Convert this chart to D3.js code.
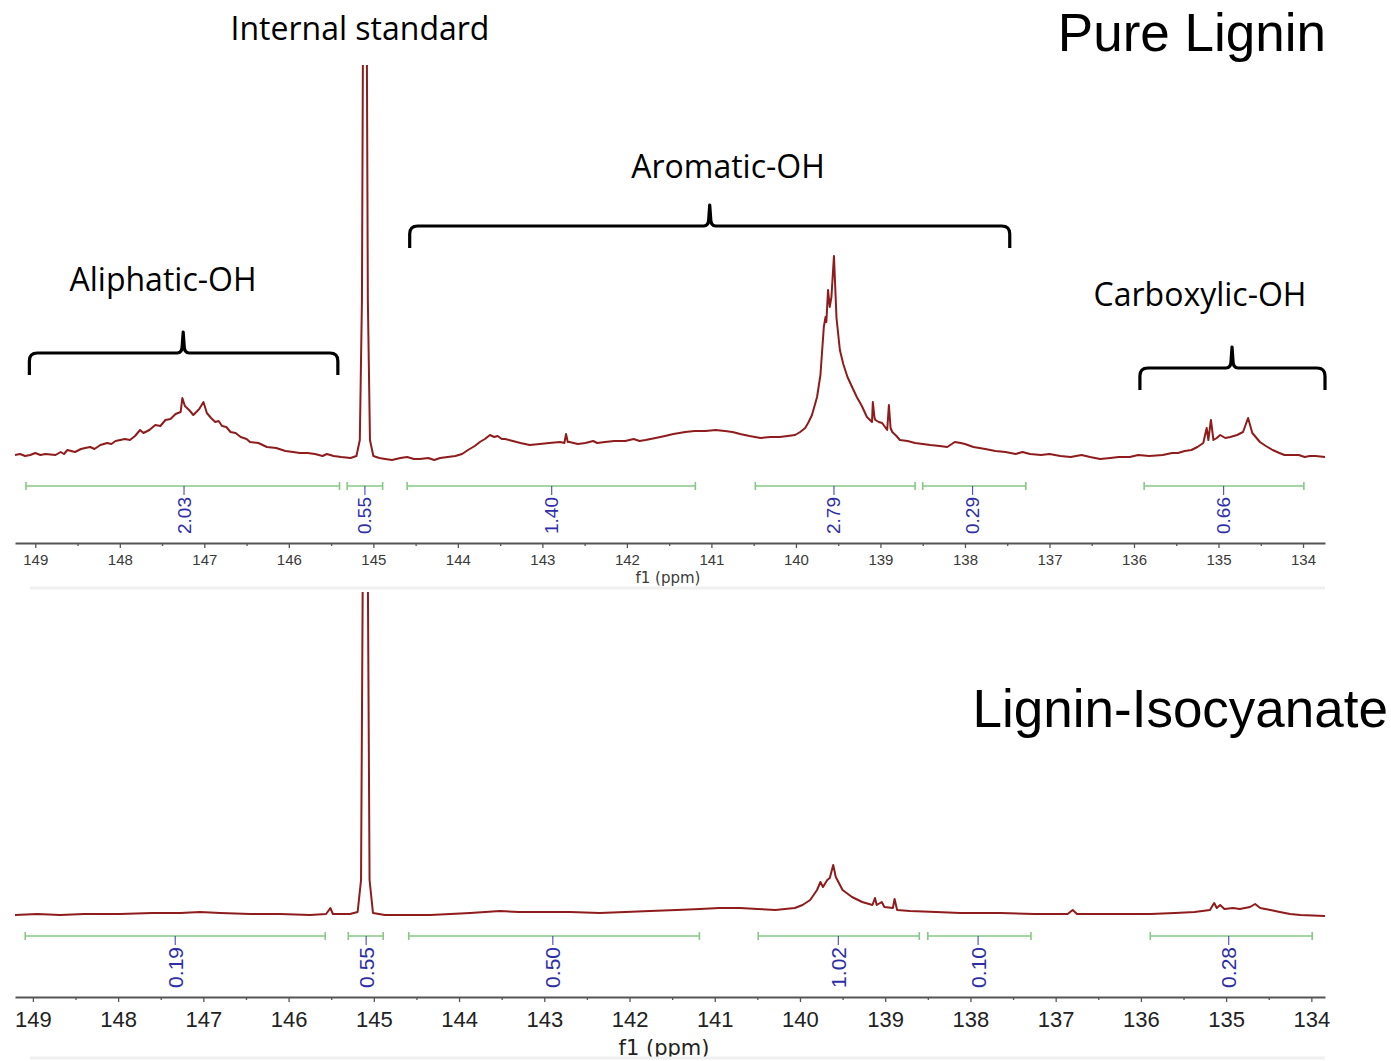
<!DOCTYPE html>
<html>
<head>
<meta charset="utf-8">
<script src="https://cdn.jsdelivr.net/npm/d3@7"></script>
<style>
  html, body { margin: 0; padding: 0; background: #fff; }
  svg { display: block; }
</style>
</head>
<body>
<svg id="chart" width="1391" height="1061"></svg>
<script>
// ---------------- DATA ----------------
// Pure Lignin spectrum: [ppm, relative intensity]
const pureLigninSpectrum = [
  [149.24,2.5],[149.18,3],[149.12,2],[149.06,2.5],[149.00,3.5],[148.94,2.5],[148.88,3],[148.76,2.5],
  [148.70,4],[148.66,3],[148.62,5],[148.53,4],[148.46,5.5],[148.41,6],[148.35,6.5],[148.30,5.5],
  [148.23,7.5],[148.15,8.5],[148.10,8],[148.05,9.5],[147.94,10.5],[147.88,10],[147.82,12],
  [147.76,15],[147.72,13.5],[147.65,15],[147.58,17.5],[147.52,17],[147.46,20],[147.40,20.5],
  [147.34,23],[147.28,24],[147.26,31],[147.23,27],[147.18,25],[147.13,22.5],[147.06,25.5],
  [147.01,29],[146.97,23.5],[146.92,21],[146.87,19],[146.83,19.5],[146.79,17],[146.74,16.5],
  [146.69,14],[146.63,13.5],[146.57,11.5],[146.50,10.5],[146.46,9],[146.36,8.5],[146.26,6.5],
  [146.15,6],[146.04,4.5],[145.95,4],[145.87,3.5],[145.78,3.5],[145.69,3],[145.60,2],[145.55,3],
  [145.47,2],[145.38,1.5],[145.27,1],[145.20,2],[145.16,10],[145.135,80],[145.118,260],
  [145.082,260],[145.065,80],[145.04,10],[145.00,2],[144.93,1],[144.86,0.5],[144.78,0],
  [144.68,1],[144.60,1.5],[144.52,0.5],[144.45,0.5],[144.35,1],[144.28,0],[144.21,1],[144.12,1.5],
  [144.03,2],[143.95,3],[143.88,5],[143.80,7],[143.74,9],[143.68,10.5],[143.62,12.5],[143.57,11.5],
  [143.53,12],[143.48,10.5],[143.44,10.5],[143.35,9.5],[143.26,8.5],[143.15,7.5],[143.03,8],
  [142.92,8.5],[142.79,9],[142.74,8.5],[142.72,13],[142.70,9],[142.68,9],[142.58,8],[142.49,8.5],
  [142.40,9.5],[142.35,8.5],[142.26,9],[142.15,9.5],[142.02,9.5],[141.92,10.5],[141.85,9.5],
  [141.78,10],[141.66,11],[141.55,12],[141.45,13],[141.31,14],[141.20,14.5],[141.07,14.5],
  [140.95,15],[140.84,14.5],[140.75,14],[140.66,13],[140.55,12],[140.42,11],[140.30,11.5],
  [140.19,11.5],[140.10,12],[140.01,12.5],[139.95,14],[139.89,16],[139.85,19],[139.81,22.5],
  [139.75,31.5],[139.71,42.5],[139.67,66.5],[139.65,71.5],[139.64,69],[139.62,85],[139.60,76.5],
  [139.58,81.5],[139.55,102],[139.52,71],[139.48,55],[139.44,48],[139.39,41.5],[139.33,36],
  [139.28,31.5],[139.22,27],[139.16,21.5],[139.10,19],[139.09,29],[139.07,21],[139.06,20],
  [139.02,19],[138.98,18.5],[138.92,15],[138.90,27.5],[138.88,16],[138.86,14],[138.81,12],
  [138.77,10],[138.68,9.5],[138.59,8.5],[138.50,8],[138.41,7.5],[138.30,7],[138.21,6.5],
  [138.12,9],[138.05,8.5],[138.00,8],[137.90,6.5],[137.76,5.5],[137.64,4.5],[137.52,4],
  [137.40,3],[137.32,4],[137.23,3],[137.10,2.5],[137.00,3],[136.87,2],[136.75,1.5],[136.62,2.5],
  [136.52,1.5],[136.40,0.5],[136.28,1],[136.18,1.5],[136.05,1.5],[135.95,2.5],[135.82,2],
  [135.66,2.5],[135.55,3.5],[135.48,3.5],[135.40,4.5],[135.32,5],[135.25,6.5],[135.18,8.5],
  [135.14,16],[135.12,10],[135.09,20],[135.06,10],[135.02,11],[134.98,12.5],[134.92,11],
  [134.86,11.5],[134.78,12.5],[134.71,14],[134.65,21],[134.60,13.5],[134.55,11],[134.51,9],
  [134.44,7],[134.36,5],[134.28,3.5],[134.22,2.5],[134.15,2.5],[134.05,2.5],[133.98,1.5],
  [133.92,2],[133.85,2],[133.74,1.5]
];

// Lignin-Isocyanate spectrum: [ppm, relative intensity]
const ligninIsocyanateSpectrum = [
  [149.21,0.5],[148.95,1],[148.68,0.5],[148.40,1],[147.98,1],[147.60,1.5],[147.27,1.5],[147.04,2],
  [146.80,1.5],[146.45,1],[146.10,1],[145.75,0.5],[145.56,1],[145.51,4],[145.48,1],[145.28,1],
  [145.19,2],[145.15,18],[145.118,260],[145.082,260],[145.05,18],[145.01,1.5],[144.87,0.5],
  [144.60,0.5],[144.34,0.5],[144.10,1],[143.87,1.5],[143.52,2.5],[143.30,2],[143.05,2],
  [142.70,2],[142.35,1.5],[142.05,2],[141.76,2.5],[141.45,3],[141.17,3.5],[140.95,4],[140.70,4],
  [140.50,3.5],[140.29,3],[140.06,4],[139.97,5.5],[139.88,8],[139.80,13],[139.76,17],[139.73,14.5],
  [139.68,18],[139.65,19],[139.61,25.5],[139.58,19.5],[139.50,13],[139.39,9.5],[139.27,7],
  [139.15,5.5],[139.12,9],[139.10,5.5],[139.06,6.5],[139.04,7],[139.01,4.5],[138.91,4],[138.89,8.5],
  [138.86,3],[138.71,2.5],[138.40,2],[138.12,1.5],[137.85,1.5],[137.65,1.5],[137.25,1],[136.86,1],
  [136.80,3],[136.75,1],[136.30,1],[135.89,1],[135.60,1.5],[135.37,2],[135.19,3],[135.14,6.5],
  [135.11,4],[135.07,5.5],[135.02,3.5],[134.92,4],[134.84,3.5],[134.72,4.5],[134.66,6],[134.60,4],
  [134.48,3],[134.37,2],[134.25,1],[134.13,0.5],[133.84,0]
];

// Integration regions [from ppm, to ppm, label ppm]
const pureIntegralRanges = [
  [149.11,145.40,147.24],[145.31,144.89,145.10],[144.60,141.19,142.89],
  [140.48,138.59,139.55],[138.50,137.28,137.91],[135.88,133.99,134.94]
];
const pureIntegralValues = ["2.03","0.55","1.40","2.79","0.29","0.66"];

const isoIntegralRanges = [
  [149.09,145.57,147.33],[145.30,144.89,145.09],[144.59,141.18,142.90],
  [140.49,138.60,139.55],[138.50,137.29,137.91],[135.89,133.99,134.97]
];
const isoIntegralValues = ["0.19","0.55","0.50","1.02","0.10","0.28"];

// Axis ticks
const majorTicks = [149,148,147,146,145,144,143,142,141,140,139,138,137,136,135,134];
const minorTicks = [148.5,147.5,146.5,145.5,144.5,143.5,142.5,141.5,140.5,139.5,138.5,137.5,136.5,135.5,134.5];

// Region brackets [from ppm, to ppm, centre ppm] and names
const bracketRanges = [[149.07,145.42,147.25],[144.57,137.47,141.02],[135.93,133.74,134.84]];
const bracketNames = ["Aliphatic-OH","Aromatic-OH","Carboxylic-OH"];

// ---------------- DRAW ----------------
const svg = d3.select("#chart");
const lineColor = "#8e1c1c";
const greenColor = "#86c986";
const blueColor = "#2e2ea6";

function panel(cfg) {
  const x = d3.scaleLinear().domain(cfg.domain).range([15, 1325]);
  const y = d3.scaleLinear().domain([0, 100]).range([cfg.baseY, cfg.baseY - 200]);
  const g = svg.append("g");

  const clipId = "clip" + cfg.id;
  svg.append("clipPath").attr("id", clipId)
    .append("rect").attr("x", 10).attr("y", cfg.clipTop)
    .attr("width", 1320).attr("height", cfg.baseY + 20 - cfg.clipTop);

  // spectrum
  const line = d3.line().x(d => x(d[0])).y(d => y(d[1])).curve(d3.curveLinear);
  g.append("path").datum(cfg.spectrum)
    .attr("clip-path", `url(#${clipId})`)
    .attr("d", line)
    .attr("fill", "none")
    .attr("stroke", lineColor)
    .attr("stroke-width", 2)
    .attr("stroke-linejoin", "round");

  // integrals
  const ig = g.append("g");
  cfg.ranges.forEach((r, i) => {
    const x0 = x(r[0]), x1 = x(r[1]), xm = x(r[2]);
    const by = cfg.barY;
    ig.append("line").attr("x1", x0).attr("x2", x1).attr("y1", by).attr("y2", by)
      .attr("stroke", greenColor).attr("stroke-width", 1.6);
    [x0, x1].forEach(xx => ig.append("line").attr("x1", xx).attr("x2", xx)
      .attr("y1", by - 4).attr("y2", by + 4)
      .attr("stroke", greenColor).attr("stroke-width", 1.6));
    ig.append("line").attr("x1", xm).attr("x2", xm).attr("y1", by).attr("y2", by + 9)
      .attr("stroke", blueColor).attr("stroke-width", 1.2).attr("opacity", 0.8);
    ig.append("text")
      .attr("transform", `translate(${xm},${by + 11}) rotate(-90)`)
      .attr("text-anchor", "end")
      .attr("dominant-baseline", "central")
      .attr("font-family", "Liberation Sans, Arial, sans-serif")
      .attr("font-size", cfg.intFont)
      .attr("fill", blueColor)
      .text(cfg.values[i]);
  });

  // axis
  const axisG = g.append("g").attr("transform", `translate(0,${cfg.axisY})`);
  const axis = d3.axisBottom(x).tickValues(majorTicks).tickSize(5).tickSizeOuter(0)
    .tickPadding(cfg.tickPad).tickFormat(d3.format("d"));
  axisG.call(axis);
  axisG.select(".domain").attr("stroke", "#555").attr("stroke-width", 2);
  axisG.selectAll(".tick line").attr("stroke", "#555").attr("stroke-width", 1.3);
  axisG.selectAll(".tick text")
    .attr("font-family", "Liberation Sans, Arial, sans-serif")
    .attr("font-size", cfg.tickFont)
    .attr("fill", cfg.tickColor);
  const minorG = g.append("g").attr("transform", `translate(0,${cfg.axisY})`);
  minorG.call(d3.axisBottom(x).tickValues(minorTicks).tickSize(3).tickSizeOuter(0).tickFormat(""));
  minorG.select(".domain").remove();
  minorG.selectAll(".tick line").attr("stroke", "#555").attr("stroke-width", 1.3);

  g.append("text")
    .attr("x", cfg.unitX).attr("y", cfg.unitY)
    .attr("text-anchor", "middle")
    .attr("font-family", "DejaVu Sans, sans-serif")
    .attr("font-size", cfg.unitFont)
    .attr("fill", cfg.tickColor)
    .text("f1 (ppm)");

  // light separator
  g.append("line").attr("x1", 30).attr("x2", 1325)
    .attr("y1", cfg.sepY).attr("y2", cfg.sepY)
    .attr("stroke", "#f0f0f0").attr("stroke-width", 3);

  return x;
}

const xTop = panel({
  id: "top", domain: [149.24, 133.74], baseY: 460, clipTop: 65,
  spectrum: pureLigninSpectrum, ranges: pureIntegralRanges, values: pureIntegralValues,
  barY: 486, intFont: 19, axisY: 543, tickPad: 6, tickFont: 15, tickColor: "#3a3a3a",
  unitX: 668, unitY: 583, unitFont: 15, sepY: 588
});

panel({
  id: "bot", domain: [149.21, 133.84], baseY: 916, clipTop: 592,
  spectrum: ligninIsocyanateSpectrum, ranges: isoIntegralRanges, values: isoIntegralValues,
  barY: 936, intFont: 21, axisY: 997, tickPad: 9, tickFont: 22, tickColor: "#222",
  unitX: 664, unitY: 1055, unitFont: 21, sepY: 1058
});

// brackets
const bracketY = [353, 226, 368];
const labelY = [291, 178, 306];
const labelX = [163, 728, 1200];
bracketRanges.forEach((b, i) => {
  const x0 = xTop(b[0]), x1 = xTop(b[1]), xc = xTop(b[2]), yy = bracketY[i];
  const p = d3.path();
  p.moveTo(x0, yy + 22);
  p.lineTo(x0, yy + 8);
  p.quadraticCurveTo(x0, yy, x0 + 8, yy);
  p.lineTo(xc - 6, yy);
  p.quadraticCurveTo(xc - 1, yy, xc - 1, yy - 7);
  p.lineTo(xc, yy - 21);
  p.lineTo(xc + 1, yy - 7);
  p.quadraticCurveTo(xc + 1, yy, xc + 6, yy);
  p.lineTo(x1 - 8, yy);
  p.quadraticCurveTo(x1, yy, x1, yy + 8);
  p.lineTo(x1, yy + 22);
  svg.append("path").attr("d", p.toString())
    .attr("fill", "none").attr("stroke", "#000").attr("stroke-width", 3.2)
    .attr("stroke-linejoin", "round");
  svg.append("text").attr("x", labelX[i]).attr("y", labelY[i])
    .attr("text-anchor", "middle")
    .attr("font-family", "Open Sans, sans-serif").attr("font-size", 32)
    .attr("fill", "#000").text(bracketNames[i]);
});

svg.append("text").attr("x", 360).attr("y", 40).attr("text-anchor", "middle")
  .attr("font-family", "Open Sans, sans-serif").attr("font-size", 32)
  .attr("fill", "#000").text("Internal standard");

svg.append("text").attr("x", 1326).attr("y", 51).attr("text-anchor", "end")
  .attr("font-family", "Liberation Sans, Arial, sans-serif").attr("font-size", 53)
  .attr("fill", "#000").text("Pure Lignin");

svg.append("text").attr("x", 1388).attr("y", 727).attr("text-anchor", "end")
  .attr("font-family", "Liberation Sans, Arial, sans-serif").attr("font-size", 53)
  .attr("fill", "#000").text("Lignin-Isocyanate");
</script>
</body>
</html>
